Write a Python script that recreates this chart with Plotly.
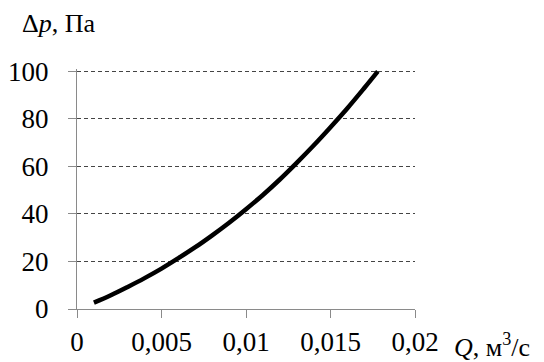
import plotly.graph_objects as go

# Flow rate Q (m^3/s) and pressure drop Δp (Pa)
flow_q = [0.001, 0.002, 0.003, 0.004, 0.005, 0.006, 0.007, 0.008, 0.009,
          0.010, 0.011, 0.012, 0.013, 0.014, 0.015, 0.016, 0.017, 0.0178]
pressure_dp = [2.7, 5.8, 9.3, 13.0, 17.0, 21.4, 26.0, 31.0, 36.3,
               42.0, 48.0, 54.5, 61.5, 68.8, 76.5, 84.5, 93.0, 100.0]

x_tickvals = [0, 0.005, 0.01, 0.015, 0.02]
x_ticktext = ["0", "0,005", "0,01", "0,015", "0,02"]
y_tickvals = [0, 20, 40, 60, 80, 100]
y_ticktext = ["0", "20", "40", "60", "80", "100"]

FONT = "'Liberation Serif', 'Times New Roman', 'DejaVu Serif', serif"

fig = go.Figure()
fig.add_trace(go.Scatter(
    x=flow_q, y=pressure_dp, mode="lines",
    line=dict(color="black", width=4.5, shape="spline"),
    hoverinfo="skip", showlegend=False,
))

fig.update_layout(
    width=544, height=362,
    margin=dict(l=77, r=129, t=69, b=53),
    paper_bgcolor="white", plot_bgcolor="white",
    font=dict(family=FONT, size=27, color="black"),
    xaxis=dict(
        range=[0, 0.02], tickvals=x_tickvals, ticktext=x_ticktext,
        showgrid=False, zeroline=False, automargin=False,
        showline=True, linecolor="#8a8a8a", linewidth=1,
        ticks="outside", ticklen=8, tickcolor="#8a8a8a", tickwidth=1,
        ticklabelstandoff=1,
        tickfont=dict(family=FONT, size=27, color="black"),
    ),
    yaxis=dict(
        range=[0, 101], tickvals=y_tickvals, ticktext=y_ticktext,
        showgrid=True, gridcolor="#444444", gridwidth=1, griddash="4px,3px",
        zeroline=False, automargin=False,
        showline=True, linecolor="#8a8a8a", linewidth=1,
        ticks="outside", ticklen=8, tickcolor="#8a8a8a", tickwidth=1,
        ticklabelstandoff=14,
        tickfont=dict(family=FONT, size=27, color="black"),
    ),
    annotations=[
        dict(text="Δ<i>p</i>, Па", xref="paper", yref="paper",
             x=-0.17, y=1.12, xanchor="left", yanchor="bottom",
             showarrow=False, font=dict(family=FONT, size=26, color="black")),
        dict(text="<i>Q</i>, м<sup>3</sup>/с", xref="paper", yref="paper",
             x=1.11, y=-0.075, xanchor="left", yanchor="top",
             showarrow=False, font=dict(family=FONT, size=26, color="black")),
    ],
)

fig.write_html("out.html")
